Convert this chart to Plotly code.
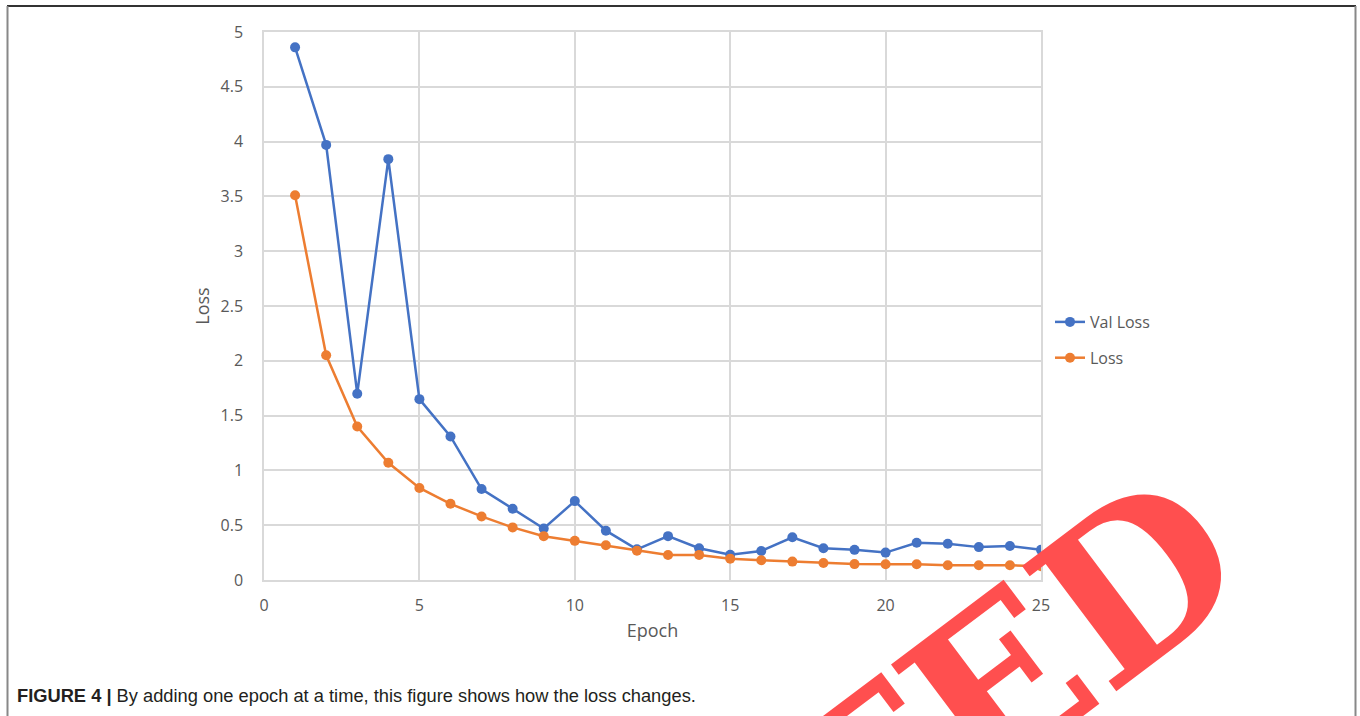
import plotly.graph_objects as go

epochs = list(range(1, 26))
val_loss = [4.86, 3.97, 1.70, 3.84, 1.65, 1.31, 0.83, 0.65, 0.47, 0.72,
            0.45, 0.28, 0.40, 0.29, 0.23, 0.265, 0.39, 0.29, 0.275, 0.25,
            0.34, 0.33, 0.30, 0.31, 0.275]
loss = [3.51, 2.05, 1.40, 1.07, 0.84, 0.695, 0.58, 0.48, 0.40, 0.357,
        0.317, 0.268, 0.228, 0.229, 0.195, 0.18, 0.168, 0.155, 0.145, 0.143,
        0.143, 0.134, 0.134, 0.134, 0.125]
series_names = ["Val Loss", "Loss"]
x_ticks = [0, 5, 10, 15, 20, 25]
y_ticks = [0, 0.5, 1, 1.5, 2, 2.5, 3, 3.5, 4, 4.5, 5]
x_title = "Epoch"
y_title = "Loss"
caption_bold = "FIGURE 4 |"
caption_text = " By adding one epoch at a time, this figure shows how the loss changes."
stamp_text = "RETRACTED"

W, H = 1360, 716
L, R, T, B = 264, 1041, 32, 580


def px(xp):
    return (xp - L) / (R - L)


def py(yp):
    return (B - yp) / (B - T)


BLUE = "#4472C4"
ORANGE = "#ED7D31"
GRID = "#d9d9d9"
TXT = "#595959"

fig = go.Figure()
fig.add_trace(go.Scatter(x=epochs, y=val_loss, name=series_names[0], mode="lines+markers",
                         line=dict(color=BLUE, width=2.5), marker=dict(size=10, color=BLUE),
                         legendgroup="a"))
fig.add_trace(go.Scatter(x=epochs, y=loss, name=series_names[1], mode="lines+markers",
                         line=dict(color=ORANGE, width=2.5), marker=dict(size=10, color=ORANGE),
                         legendgroup="b"))

fig.update_layout(
    width=W, height=H,
    margin=dict(l=L, r=W - R, t=T, b=H - B, autoexpand=False),
    paper_bgcolor="white", plot_bgcolor="white",
    font=dict(family="Open Sans", size=16, color=TXT),
    showlegend=True,
    legend=dict(x=px(1050), y=py(340), xanchor="left", yanchor="middle",
                font=dict(size=16, color=TXT), tracegroupgap=12,
                traceorder="grouped", bgcolor="rgba(0,0,0,0)"),
    xaxis=dict(range=[0, 25], tickvals=x_ticks, showgrid=True, gridcolor=GRID, gridwidth=1.5,
               showline=True, linecolor=GRID, linewidth=1.5, mirror=True, zeroline=False,
               ticks="", ticklabelstandoff=10, tickfont=dict(size=16, color=TXT),
               title=dict(text=x_title, font=dict(size=18, color=TXT), standoff=9)),
    yaxis=dict(range=[0, 5], tickvals=y_ticks, showgrid=True, gridcolor=GRID, gridwidth=1.5,
               showline=True, linecolor=GRID, linewidth=1.5, mirror=True, zeroline=False,
               ticks="", ticklabelstandoff=16, tickfont=dict(size=16, color=TXT),
               title=dict(text=y_title, font=dict(size=18, color=TXT), standoff=6)),
)

# page border lines
fig.add_shape(type="line", xref="paper", yref="paper", x0=px(7), x1=px(1356), y0=py(6), y1=py(6),
              line=dict(color="#333333", width=2), layer="above")
fig.add_shape(type="line", xref="paper", yref="paper", x0=px(7.5), x1=px(7.5), y0=py(6), y1=py(720),
              line=dict(color="#888888", width=2), layer="above")
fig.add_shape(type="line", xref="paper", yref="paper", x0=px(1355.5), x1=px(1355.5), y0=py(6), y1=py(720),
              line=dict(color="#888888", width=2), layer="above")

# caption
fig.add_annotation(x=px(15), y=py(695), xref="paper", yref="paper", xanchor="left", yanchor="middle",
                   showarrow=False, align="left",
                   text="<b>" + caption_bold + "</b>" + caption_text,
                   font=dict(family="Liberation Sans", size=18.3, color="#231f20"))

# retraction stamp
fig.add_annotation(x=px(600), y=py(985), xref="paper", yref="paper", xanchor="center", yanchor="middle",
                   showarrow=False, text="<b>" + stamp_text + "</b>", textangle=-37,
                   font=dict(family="DejaVu Serif", size=215, color="#FF4F4F"))

fig.write_html("out.html", config={"displayModeBar": False},
               post_script="document.body.style.margin='0';")
